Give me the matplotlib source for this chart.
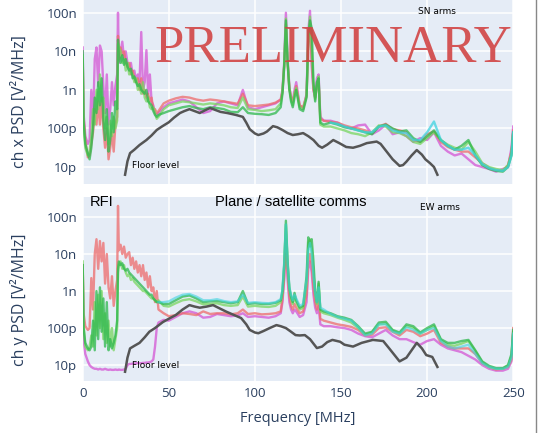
import matplotlib.pyplot as plt
from matplotlib.lines import Line2D
import numpy as np

# shared frequency grid (MHz)
freq = [0, 0.5, 1.5, 3, 4, 5, 6, 7, 8, 9, 10, 11, 12, 13, 14, 15, 16, 17, 18, 19, 20, 20.5,
        21, 22, 23, 24, 25, 26, 27, 28, 29, 30, 31, 32, 33, 34, 35, 36, 37, 38, 39, 40, 41,
        42, 43, 44,
        47, 50, 54, 58, 62, 66, 70, 74, 78, 82, 86, 90, 93, 96, 100, 104, 108, 112, 115,
        116, 117, 118, 119, 120, 121, 122, 123, 124, 126, 128, 130, 131, 132, 133, 134, 135,
        136, 137, 138, 140,
        144, 148, 152, 156, 160, 164, 168, 172, 176, 180, 184, 188, 192, 196, 200, 204, 208,
        212, 216, 220, 224, 228, 232, 236, 240, 244, 247, 249, 250]

# log10 PSD [V^2/MHz], ch x (SN arms)
x_magenta = [-7.9, -9.6, -10.2, -10.4, -10.3, -9.0, -9.9, -8.2, -7.9, -8.9, -7.85, -8.0, -8.9,
             -9.6, -8.6, -9.9, -9.5, -8.8, -9.4, -8.9, -8.6, -7.0, -8.3, -8.0, -7.75, -8.2,
             -8.0, -8.3, -8.4, -8.3, -8.6, -8.5, -8.75, -8.6, -8.8, -7.5, -9.0, -8.8, -7.97,
             -9.1, -8.6, -9.3, -9.4, -9.6, -9.65, -9.6,
             -9.45, -9.35, -9.3, -9.25, -9.3, -9.45, -9.6, -9.55, -9.35, -9.3, -9.35, -9.4,
             -9.0, -9.45, -9.5, -9.45, -9.4, -9.35, -9.25,
             -9.0, -8.3, -7.0, -8.2, -8.9, -9.2, -9.3, -9.0, -8.8, -9.4, -9.5, -9.1, -7.5,
             -6.95, -8.4, -9.0, -9.2, -8.7, -8.6, -9.7, -9.8,
             -9.8, -9.85, -9.95, -10.0, -9.92, -9.9, -10.15, -10.05, -9.9, -10.15, -10.1,
             -10.2, -10.35, -10.25, -10.3, -10.1, -10.45, -10.6, -10.7, -10.65, -10.8,
             -10.95, -11.0, -11.05, -11.12, -11.05, -11.0, -10.5, -9.95]
x_green = [-8.0, -9.8, -10.4, -10.65, -10.8, -10.5, -10.0, -9.2, -9.6, -8.8, -9.4, -8.7, -9.8,
           -10.3, -9.5, -10.6, -10.3, -9.6, -10.1, -9.3, -9.5, -7.7, -8.1, -8.3, -8.1, -8.35,
           -8.2, -8.4, -8.5, -8.45, -8.7, -8.65, -8.8, -8.9, -8.85, -9.0, -9.05, -9.1, -9.0,
           -9.3, -9.35, -9.4, -9.55, -9.65, -9.7, -9.65,
           -9.6, -9.55, -9.5, -9.45, -9.42, -9.47, -9.5, -9.45, -9.47, -9.5, -9.57, -9.58,
           -9.45, -9.6, -9.62, -9.63, -9.65, -9.6, -9.45,
           -9.1, -8.4, -7.2, -8.3, -9.0, -9.3, -9.45, -9.2, -9.0, -9.5, -9.55, -9.2, -7.6,
           -7.2, -7.4, -8.8, -9.3, -8.8, -8.7, -9.85, -9.9,
           -9.85, -9.9, -9.97, -10.0, -10.05, -10.1, -10.15, -9.95, -9.9, -10.0, -10.08,
           -10.05, -10.25, -10.35, -10.2, -10.05, -10.3, -10.45, -10.55, -10.45, -10.3,
           -10.7, -10.95, -11.05, -11.1, -11.12, -11.0, -10.7, -10.1]
x_lightgreen = [-8.1, -9.9, -10.5, -10.7, -10.6, -10.2, -9.5, -9.9, -9.0, -9.5, -8.6, -9.3,
                -9.2, -10.0, -9.7, -10.4, -9.8, -10.2, -9.7, -10.0, -9.8, -7.8, -7.9, -8.0,
                -8.3, -8.2, -8.5, -8.3, -8.6, -8.55, -8.6, -8.8, -8.7, -9.0, -8.9, -9.1,
                -8.8, -9.2, -9.3, -9.2, -9.45, -9.5, -9.45, -9.6, -9.75, -9.7,
                -9.5, -9.4, -9.35, -9.3, -9.32, -9.35, -9.38, -9.35, -9.37, -9.4, -9.45,
                -9.47, -9.2, -9.5, -9.52, -9.55, -9.53, -9.5, -9.35,
                -9.05, -8.35, -7.15, -8.25, -8.95, -9.25, -9.4, -9.1, -8.95, -9.45, -9.5,
                -9.15, -7.7, -7.1, -7.9, -8.9, -9.25, -8.9, -8.65, -9.9, -9.95,
                -9.95, -10.0, -10.05, -10.12, -10.15, -10.2, -10.1, -9.92, -9.95, -10.1,
                -10.12, -10.2, -10.35, -10.4, -10.25, -10.1, -10.3, -10.42, -10.5, -10.55,
                -10.35, -10.6, -10.9, -11.0, -11.05, -11.08, -10.95, -10.65, -10.1]
x_salmon = [-8.2, -9.7, -10.3, -10.75, -10.7, -10.4, -10.1, -9.5, -9.9, -9.3, -9.9, -9.2,
            -10.0, -10.5, -10.0, -10.8, -10.5, -10.1, -10.6, -9.9, -9.7, -7.6, -8.2, -7.9,
            -8.1, -8.0, -8.3, -8.4, -8.3, -8.6, -8.5, -8.7, -8.8, -8.7, -9.0, -8.7, -9.1,
            -9.0, -9.2, -9.1, -9.3, -9.2, -9.5, -9.5, -9.6, -9.55,
            -9.35, -9.28, -9.22, -9.18, -9.2, -9.25, -9.28, -9.25, -9.27, -9.3, -9.33,
            -9.36, -9.1, -9.4, -9.42, -9.4, -9.38, -9.33, -9.25,
            -9.05, -8.4, -7.3, -8.3, -8.95, -9.2, -9.3, -9.1, -8.9, -9.4, -9.45, -9.15,
            -7.8, -7.3, -8.2, -9.0, -9.2, -8.9, -8.8, -9.75, -9.8,
            -9.83, -9.85, -9.92, -9.97, -10.0, -10.05, -10.12, -9.95, -9.88, -10.02,
            -10.05, -10.1, -10.3, -10.35, -10.15, -10.08, -10.35, -10.48, -10.55, -10.6,
            -10.6, -10.75, -10.9, -11.02, -11.08, -11.1, -10.95, -10.6, -10.05]
# cyan only shown from 144 MHz up
x_cyan = [-9.85, -9.88, -9.95, -10.0, -10.05, -10.1, -10.1, -9.95, -9.92, -10.05, -10.1,
          -10.12, -10.3, -10.3, -10.1, -9.82, -10.3, -10.45, -10.55, -10.55, -10.5, -10.7,
          -10.92, -11.03, -11.08, -11.1, -11.0, -10.7, -10.1]

# log10 PSD [V^2/MHz], ch y (EW arms)
y_salmon = [-8.3, -9.6, -9.95, -10.05, -10.0, -8.65, -9.5, -8.0, -7.6, -8.4, -7.65, -8.2,
            -7.7, -8.8, -8.0, -8.9, -9.2, -8.6, -9.4, -9.0, -8.7, -6.7, -7.9, -7.75, -8.0,
            -7.8, -8.1, -8.0, -7.95, -8.3, -8.1, -8.4, -8.2, -8.5, -8.3, -8.6, -8.3, -8.7,
            -8.5, -8.9, -8.6, -9.0, -8.9, -9.3, -9.0, -9.5,
            -9.6, -9.68, -9.65, -9.6, -9.62, -9.65, -9.55, -9.62, -9.6, -9.6, -9.63, -9.6,
            -9.5, -9.62, -9.6, -9.63, -9.62, -9.6, -9.55,
            -9.2, -8.6, -7.6, -8.5, -9.15, -9.4, -9.5, -9.35, -9.45, -9.6, -9.55, -9.1,
            -8.2, -8.0, -8.3, -8.9, -9.3, -9.5, -9.1, -9.75, -9.8,
            -9.85, -9.9, -9.93, -9.97, -10.05, -10.2, -10.18, -10.0, -9.98, -10.1, -10.2,
            -10.05, -10.1, -10.22, -10.15, -10.05, -10.4, -10.5, -10.55, -10.55, -10.55,
            -10.7, -10.95, -11.05, -11.12, -11.1, -11.05, -10.85, -10.0]
y_green = [-8.3, -10.0, -10.4, -10.55, -10.6, -10.5, -9.8, -10.6, -9.0, -10.3, -8.9, -10.1,
           -9.2, -10.5, -9.3, -10.6, -10.3, -10.55, -10.4, -10.2, -9.8, -8.4, -8.2, -8.3,
           -8.25, -8.4, -8.45, -8.4, -8.5, -8.55, -8.6, -8.65, -8.7, -8.75, -8.8, -8.85,
           -8.9, -8.95, -9.0, -9.05, -9.1, -9.1, -9.2, -9.25, -9.3, -9.3,
           -9.35, -9.35, -9.25, -9.15, -9.12, -9.2, -9.3, -9.28, -9.27, -9.3, -9.33, -9.3,
           -9.0, -9.35, -9.33, -9.35, -9.35, -9.32, -9.25,
           -9.0, -8.3, -7.1, -8.2, -8.9, -9.15, -9.3, -9.05, -9.25, -9.45, -9.4, -8.6,
           -7.55, -7.8, -7.6, -8.2, -9.0, -9.3, -8.75, -9.5, -9.55,
           -9.6, -9.68, -9.72, -9.78, -9.95, -10.15, -10.1, -9.85, -9.83, -10.05, -10.12,
           -9.9, -9.95, -10.12, -10.0, -9.9, -10.3, -10.4, -10.4, -10.35, -10.32, -10.6,
           -10.9, -11.02, -11.08, -11.08, -11.0, -10.7, -10.05]
y_lightgreen = [-8.2, -9.9, -10.5, -10.6, -10.5, -10.2, -10.5, -9.3, -10.2, -9.1, -10.0,
                -9.0, -10.3, -9.6, -10.4, -9.8, -10.5, -10.0, -10.6, -10.3, -10.0, -8.5,
                -8.3, -8.2, -8.4, -8.3, -8.5, -8.6, -8.55, -8.7, -8.65, -8.75, -8.8, -8.85,
                -8.9, -8.95, -9.0, -9.0, -9.05, -9.1, -9.15, -9.2, -9.2, -9.25, -9.3, -9.25,
                -9.4, -9.42, -9.33, -9.25, -9.22, -9.28, -9.36, -9.35, -9.33, -9.38, -9.4,
                -9.38, -9.15, -9.42, -9.4, -9.42, -9.43, -9.4, -9.3,
                -9.05, -8.35, -7.2, -8.3, -8.95, -9.2, -9.35, -9.15, -9.3, -9.5, -9.45,
                -8.8, -7.7, -7.6, -7.9, -8.5, -9.1, -9.35, -8.8, -9.55, -9.6,
                -9.65, -9.72, -9.78, -9.85, -10.0, -10.18, -10.12, -9.9, -9.88, -10.08,
                -10.15, -9.95, -10.0, -10.15, -10.05, -9.95, -10.33, -10.45, -10.48, -10.42,
                -10.35, -10.62, -10.92, -11.05, -11.1, -11.1, -11.02, -10.75, -10.1]
y_magenta = [-8.3, -10.3, -10.7, -10.9, -11.0, -11.05, -11.08, -11.1, -11.1, -11.12, -11.1,
             -11.12, -11.12, -11.1, -11.12, -11.13, -11.12, -11.13, -11.13, -11.12, -11.13,
             -11.13, -11.12, -11.13, -11.13, -11.12, -11.1, -11.0, -10.97, -10.97, -10.96,
             -10.96, -10.95, -10.95, -10.95, -10.95, -10.94, -10.94, -10.93, -10.93, -10.92,
             -10.9, -10.85, -10.5, -10.0, -9.85,
             -9.78, -9.8, -9.7, -9.6, -9.55, -9.6, -9.72, -9.7, -9.62, -9.65, -9.68, -9.66,
             -9.6, -9.7, -9.68, -9.7, -9.72, -9.68, -9.6,
             -9.3, -8.7, -7.7, -8.7, -9.3, -9.5, -9.6, -9.5, -9.55, -9.7, -9.65, -9.3,
             -8.4, -8.2, -8.5, -9.1, -9.45, -9.6, -9.4, -9.9, -9.95,
             -9.95, -9.98, -10.0, -10.05, -10.15, -10.22, -10.25, -10.15, -10.05, -10.2,
             -10.3, -10.3, -10.38, -10.45, -10.35, -10.3, -10.45, -10.55, -10.6, -10.65,
             -10.75, -10.85, -11.0, -11.1, -11.15, -11.15, -11.1, -10.9, -10.1]
# cyan only shown from 44 MHz up
y_cyan = [-9.3,
          -9.3, -9.28, -9.18, -9.1, -9.08, -9.15, -9.25, -9.25, -9.22, -9.27, -9.3, -9.28,
          -9.1, -9.32, -9.3, -9.32, -9.33, -9.3, -9.22,
          -8.95, -8.25, -7.2, -8.25, -8.9, -9.1, -9.25, -9.1, -9.2, -9.4, -9.35, -8.7, -7.9,
          -7.7, -8.0, -8.6, -9.05, -9.3, -8.9, -9.45, -9.5,
          -9.62, -9.7, -9.75, -9.8, -9.98, -10.2, -10.15, -9.9, -9.9, -10.1, -10.15, -9.98,
          -10.05, -10.15, -10.05, -10.0, -10.35, -10.5, -10.55, -10.5, -10.45, -10.7,
          -10.95, -11.05, -11.1, -11.1, -11.05, -10.8, -10.15]

# floor level
x_floor_f = [24.6, 26, 27.5, 30, 33, 37, 40, 43, 46, 50, 53, 56.5, 59, 62, 65, 68, 71, 74, 77,
             80, 84, 89, 93, 95, 97, 100, 102, 105, 107, 110.5, 113, 116, 119, 122, 125, 128,
             131, 134, 137, 139, 142, 145.5, 149, 153, 157, 161, 165, 170.7, 173, 176.5, 180,
             184, 186, 188, 191, 194, 197, 199, 201.7, 204, 206]
x_floor = [-11.2, -10.85, -10.64, -10.55, -10.43, -10.3, -10.18, -10.04, -9.95, -9.84, -9.72,
           -9.6, -9.55, -9.5, -9.55, -9.6, -9.53, -9.47, -9.52, -9.57, -9.6, -9.65, -9.7,
           -9.85, -10.02, -10.13, -10.17, -10.13, -10.08, -9.94, -9.97, -10.04, -10.12,
           -10.17, -10.15, -10.12, -10.2, -10.3, -10.45, -10.5, -10.42, -10.3, -10.38,
           -10.48, -10.5, -10.45, -10.38, -10.34, -10.4, -10.6, -10.8, -10.97, -10.95,
           -10.86, -10.7, -10.56, -10.68, -10.8, -10.9, -11.0, -11.2]
y_floor_f = [24.6, 26, 27.5, 30, 33, 36, 38.7, 42, 46.5, 50.7, 54, 58, 62, 65, 68, 72, 75.7,
             80, 83.5, 88, 92, 95, 97, 100, 102, 105, 108.6, 112.5, 115, 118, 121, 123.6,
             126, 129, 132, 136, 139, 142, 145, 149.5, 152, 157, 162, 168.5, 174.5, 178,
             184, 188, 191, 194, 197, 199.5, 203, 206]
y_floor = [-11.18, -10.8, -10.55, -10.48, -10.4, -10.25, -10.1, -10.0, -9.84, -9.73, -9.65,
           -9.5, -9.38, -9.42, -9.45, -9.42, -9.38, -9.48, -9.56, -9.65, -9.73, -9.9, -10.05,
           -10.12, -10.14, -10.08, -10.0, -9.92, -9.95, -10.0, -10.1, -10.19, -10.2, -10.19,
           -10.3, -10.54, -10.5, -10.38, -10.32, -10.37, -10.45, -10.5, -10.4, -10.32,
           -10.35, -10.55, -10.9, -10.8, -10.6, -10.4, -10.55, -10.73, -10.78, -11.05]

tick_vals = [1e-7, 1e-8, 1e-9, 1e-10, 1e-11]
tick_text = ['100n', '10n', '1n', '100p', '10p']

MAGENTA = '#d455d4'
GREEN = '#2db84c'
LGREEN = '#78d65f'
SALMON = '#ee6b6b'
CYAN = '#3fd3e0'
FLOOR = '#555555'
TXT = '#2a3f5f'
LW = 1.7

fig = plt.figure(figsize=(5.38, 4.33), dpi=100)
ax1 = fig.add_axes([82.7 / 538, 1 - 184 / 433, 430.5 / 538, 184 / 433])
ax2 = fig.add_axes([82.7 / 538, 1 - 381 / 433, 430.5 / 538, 184 / 433])

f = np.array(freq)
top = [(x_magenta, MAGENTA), (x_salmon, SALMON), (x_lightgreen, LGREEN), (x_green, GREEN)]
for vals, c in top:
    ax1.plot(f, 10 ** np.array(vals), color=c, lw=LW, alpha=0.75)
ax1.plot(f[-len(x_cyan):], 10 ** np.array(x_cyan), color=CYAN, lw=LW, alpha=0.75)
ax1.plot(x_floor_f, 10 ** np.array(x_floor), color=FLOOR, lw=1.8)

bottom = [(y_magenta, MAGENTA), (y_salmon, SALMON), (y_lightgreen, LGREEN), (y_green, GREEN)]
for vals, c in bottom:
    ax2.plot(f, 10 ** np.array(vals), color=c, lw=LW, alpha=0.75)
ax2.plot(f[-len(y_cyan):], 10 ** np.array(y_cyan), color=CYAN, lw=LW, alpha=0.6)
ax2.plot(y_floor_f, 10 ** np.array(y_floor), color=FLOOR, lw=1.8)

for ax, lo, hi in [(ax1, -11.44, -6.67), (ax2, -11.43, -6.46)]:
    ax.set_yscale('log')
    ax.set_ylim(10 ** lo, 10 ** hi)
    ax.set_xlim(0, 250)
    ax.set_facecolor('#e5ecf6')
    ax.set_yticks(tick_vals)
    ax.set_yticklabels(tick_text)
    ax.minorticks_off()
    ax.set_xticks([0, 50, 100, 150, 200, 250])
    ax.grid(True, color='white', lw=1.1)
    ax.set_axisbelow(True)
    for s in ax.spines.values():
        s.set_visible(False)
    ax.tick_params(length=0, pad=4, labelsize=9.5, labelcolor=TXT)
    for lab in ax.get_yticklabels() + ax.get_xticklabels():
        lab.set_family('Open Sans')

ax1.tick_params(labelbottom=False)
ax1.set_ylabel('ch x PSD [V²/MHz]', fontsize=11.5, color=TXT, family='Open Sans')
ax2.set_ylabel('ch y PSD [V²/MHz]', fontsize=11.5, color=TXT, family='Open Sans')
ax2.set_xlabel('Frequency [MHz]', fontsize=10.5, color=TXT, family='Open Sans', labelpad=8)
ax1.yaxis.set_label_coords(-0.128, 0.45)
ax2.yaxis.set_label_coords(-0.128, 0.44)

# annotations
fig.text(333 / 538, 1 - 49 / 433, 'PRELIMINARY', family='Liberation Serif', fontsize=38,
         color='#d24545', alpha=0.9, ha='center', va='center')
fig.text(418 / 538, 1 - 12 / 433, 'SN arms', fontsize=6.5, color='black', va='center')
fig.text(132 / 538, 1 - 166 / 433, 'Floor level', fontsize=6.5, color='black', va='center')
fig.text(90 / 538, 1 - 202 / 433, 'RFI', family='Liberation Sans', fontsize=10.5,
         color='black', va='center')
fig.text(215 / 538, 1 - 202 / 433, 'Plane / satellite comms', family='Liberation Sans',
         fontsize=10.5, color='black', va='center')
fig.text(420 / 538, 1 - 207 / 433, 'EW arms', fontsize=6.5, color='black', va='center')
fig.text(132 / 538, 1 - 366 / 433, 'Floor level', fontsize=6.5, color='black', va='center')

fig.add_artist(Line2D([536 / 538, 536 / 538], [0, 1], color='#888888', lw=1))

fig.savefig('out.png', dpi=100)
